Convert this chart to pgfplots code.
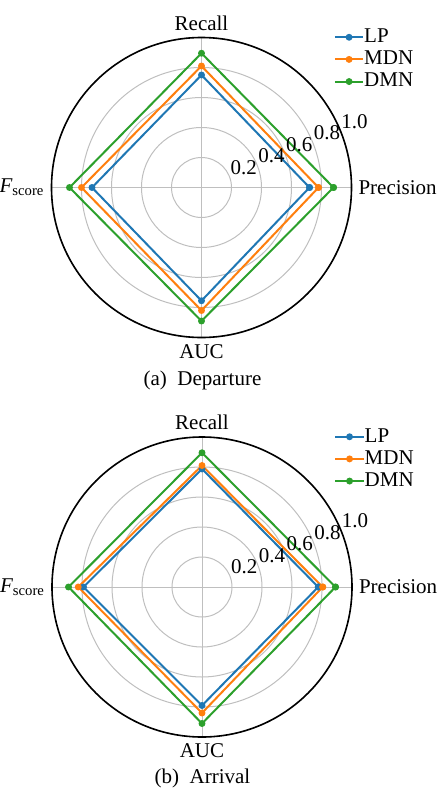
\documentclass[border=0pt]{standalone}
\usepackage{pgfplots}
\pgfplotsset{compat=1.18}
\usepgfplotslibrary{polar}
\usepackage{fontspec}
\setmainfont{Liberation Serif}
\definecolor{cLP}{HTML}{1F77B4}
\definecolor{cMDN}{HTML}{FF7F0E}
\definecolor{cDMN}{HTML}{2CA02C}
\pgfplotsset{
  radar/.style={
    width=150bp,height=150bp,scale only axis,
    xmin=0,xmax=360,ymin=0,ymax=1,
    clip=false,
    xtick={0,90,180,270},
    xticklabels={Precision,Recall,{\itshape F}\textsubscript{score},AUC},
    ytick={0.2,0.4,0.6,0.8,1.0},
    yticklabels={},
    grid=major,
    major grid style={draw=black!25, line width=0.5bp},
    axis line style={black, line width=0.8bp},
    y axis line style={draw=none},
    major tick length=0pt,
    legend style={draw=none, fill=none, at={(0.94,1.03)}, anchor=north west,
      inner sep=0pt, nodes={inner sep=0pt}, row sep=2.7bp,
      /tikz/every even column/.append style={column sep=4.5bp}},
    legend cell align=left,
    legend image code/.code={\draw[mark repeat=2,mark phase=2] plot coordinates {(0cm,0cm) (0.25cm,0cm) (0.5cm,0cm)};},
    every axis plot/.append style={line width=1bp, mark=*, mark size=1.2bp, mark options={solid}},
  },
}
\begin{document}
\begin{tikzpicture}[font=\fontsize{10.5bp}{12bp}\selectfont]
\useasboundingbox (0,0) rectangle (219.5bp,-395.5bp);
% (a) Departure
\begin{polaraxis}[radar, at={(100.75bp,-93.75bp)}, anchor=center]
\addplot[cLP] coordinates {(0,0.72) (90,0.75) (180,0.73) (270,0.755) (360,0.72)};
\addplot[cMDN] coordinates {(0,0.78) (90,0.81) (180,0.80) (270,0.82) (360,0.78)};
\addplot[cDMN] coordinates {(0,0.88) (90,0.895) (180,0.88) (270,0.89) (360,0.88)};
\legend{LP,MDN,DMN}
\node[anchor=south west, inner sep=0.5bp] at (axis cs:22.5,0.2) {0.2};
\node[anchor=south west, inner sep=0.5bp] at (axis cs:22.5,0.4) {0.4};
\node[anchor=south west, inner sep=0.5bp] at (axis cs:22.5,0.6) {0.6};
\node[anchor=south west, inner sep=0.5bp] at (axis cs:22.5,0.8) {0.8};
\node[anchor=south west, inner sep=0.5bp] at (axis cs:22.5,1.0) {1.0};
\end{polaraxis}
\node[anchor=base] at (101.25bp,-192.5bp) {(a)\enspace Departure};
% (b) Arrival
\begin{polaraxis}[radar, at={(101bp,-293.5bp)}, anchor=center]
\addplot[cLP] coordinates {(0,0.775) (90,0.787) (180,0.79) (270,0.79) (360,0.775)};
\addplot[cMDN] coordinates {(0,0.805) (90,0.81) (180,0.825) (270,0.84) (360,0.805)};
\addplot[cDMN] coordinates {(0,0.89) (90,0.895) (180,0.89) (270,0.91) (360,0.89)};
\legend{LP,MDN,DMN}
\node[anchor=south west, inner sep=0.5bp] at (axis cs:22.5,0.2) {0.2};
\node[anchor=south west, inner sep=0.5bp] at (axis cs:22.5,0.4) {0.4};
\node[anchor=south west, inner sep=0.5bp] at (axis cs:22.5,0.6) {0.6};
\node[anchor=south west, inner sep=0.5bp] at (axis cs:22.5,0.8) {0.8};
\node[anchor=south west, inner sep=0.5bp] at (axis cs:22.5,1.0) {1.0};
\end{polaraxis}
\node[anchor=base] at (101.25bp,-391.5bp) {(b)\enspace Arrival};
\end{tikzpicture}
\end{document}
